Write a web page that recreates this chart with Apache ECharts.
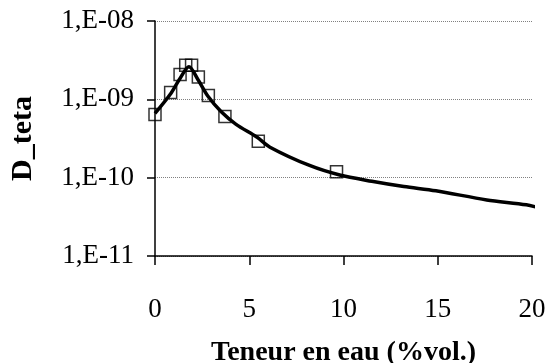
<!DOCTYPE html>
<html>
<head>
<meta charset="utf-8">
<script src="https://cdn.jsdelivr.net/npm/echarts@6/dist/echarts.min.js"></script>
<style>
  html, body { margin: 0; padding: 0; background: #fff; }
  #main { width: 548px; height: 363px; }
</style>
</head>
<body>
<div id="main"></div>
<script>
// measured points (squares)
var mesX = [0, 0.83, 1.33, 1.63, 1.94, 2.3, 2.83, 3.71, 5.48, 9.63];
var mesD = [6.4e-10, 1.22e-9, 2.07e-9, 2.73e-9, 2.73e-9, 1.93e-9, 1.12e-9, 6.05e-10, 2.92e-10, 1.19e-10];

// model curve (thick line)
var modX = [0, 0.8, 1.3, 1.8, 2.3, 2.8, 3.5, 4.3, 5.4, 6.1, 8.2, 9.8, 11.5, 13.2, 14.9, 17.6, 19.7, 20.4];
var modD = [6.6e-10, 1.15e-9, 1.8e-9, 2.6e-9, 1.75e-9, 1.1e-9, 7e-10, 4.8e-10, 3.3e-10, 2.45e-10, 1.43e-10, 1.08e-10, 9e-11, 7.7e-11, 6.8e-11, 5.2e-11, 4.5e-11, 4.1e-11];

var xTicks = [0, 5, 10, 15, 20];

function pairs(xs, ys) {
    var out = [];
    for (var i = 0; i < xs.length; i++) out.push([xs[i], ys[i]]);
    return out;
}

function sciLabel(v) {
    var e = Math.round(Math.log(v) / Math.LN10);
    var a = Math.abs(e);
    return '1,E' + (e < 0 ? '-' : '+') + (a < 10 ? '0' + a : a);
}

var font = 'Liberation Serif';
var myChart = echarts.init(document.getElementById('main'));
var option = {
    backgroundColor: '#fff',
    animation: false,
    grid: { left: 155, right: 16, top: 21, bottom: 107, outerBoundsMode: 'none', containLabel: false },
    xAxis: {
        type: 'value',
        min: xTicks[0],
        max: xTicks[xTicks.length - 1],
        interval: 5,
        name: 'Teneur en eau (%vol.)',
        nameLocation: 'middle',
        nameGap: 83,
        nameTextStyle: { fontFamily: font, fontSize: 28, fontWeight: 'bold', color: '#000' },
        axisLine: { lineStyle: { color: '#000', width: 1.5 } },
        axisTick: { inside: false, length: 9, lineStyle: { color: '#000', width: 1.5 } },
        axisLabel: { margin: 40, fontFamily: font, fontSize: 27, color: '#000' },
        splitLine: { show: false }
    },
    yAxis: {
        type: 'log',
        logBase: 10,
        min: 1e-11,
        max: 1e-8,
        name: 'D_teta',
        nameLocation: 'middle',
        nameGap: 117,
        nameTextStyle: { fontFamily: font, fontSize: 30, fontWeight: 'bold', color: '#000' },
        axisLine: { show: true, lineStyle: { color: '#000', width: 1.5 } },
        axisTick: { show: true, inside: false, length: 8, lineStyle: { color: '#000', width: 1.5 } },
        axisLabel: { margin: 21, fontFamily: font, fontSize: 27, color: '#000', formatter: sciLabel },
        splitLine: { show: true, lineStyle: { color: '#808080', width: 1, type: 'dotted' } },
        minorTick: { show: false }
    },
    series: [
        {
            type: 'line',
            data: pairs(modX, modD),
            smooth: 0.3,
            showSymbol: false,
            symbol: 'none',
            clip: false,
            lineStyle: { color: '#000', width: 3.5 },
            z: 2
        },
        {
            type: 'scatter',
            data: pairs(mesX, mesD),
            symbol: 'rect',
            symbolSize: 12,
            clip: false,
            itemStyle: { color: 'rgba(0,0,0,0)', borderColor: '#000', borderWidth: 1.5 },
            z: 3
        }
    ]
};
myChart.setOption(option);
</script>
</body>
</html>
